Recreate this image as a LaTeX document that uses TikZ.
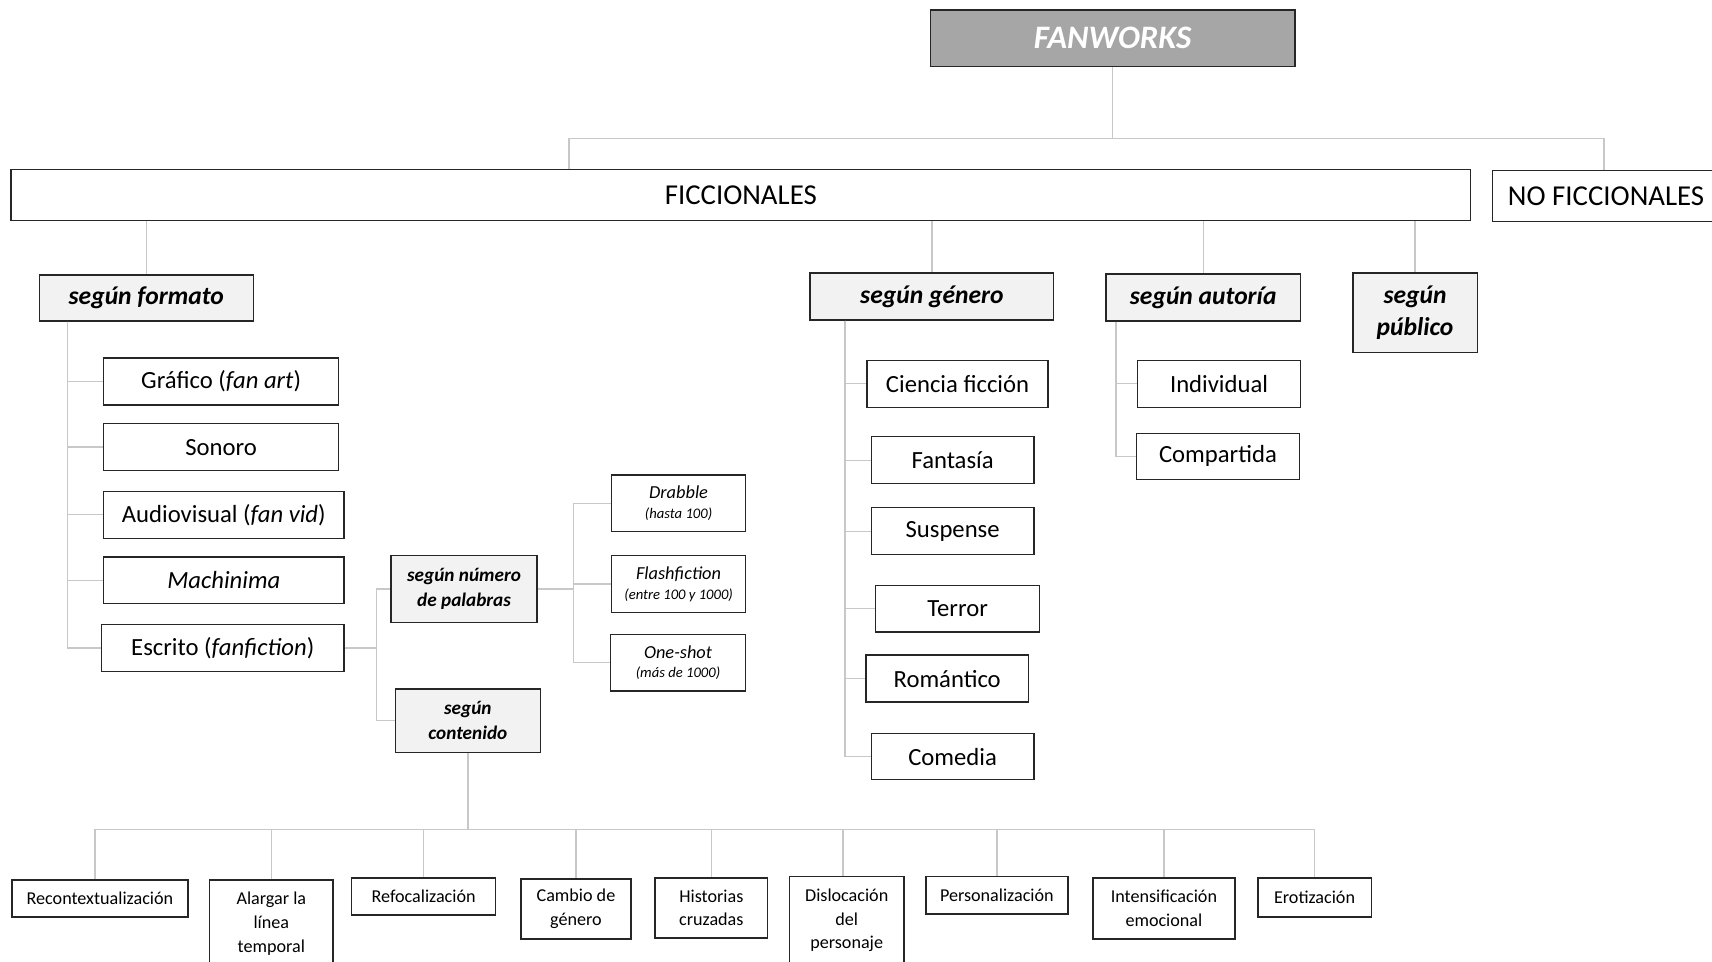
\documentclass[tikz,border=0pt]{standalone}
\usepackage{fontspec}
\setmainfont{Carlito}
\definecolor{bordc}{HTML}{262626}
\definecolor{connc}{HTML}{C8C8C8}
\definecolor{topfill}{HTML}{A6A6A6}
\definecolor{catfill}{HTML}{F2F2F2}
\newcommand{\mkbox}[7]{\node[#6, minimum width={(#4-#2)*0.5pt}, minimum height={(#5-#3)*0.5pt}] (#1) at ({(#2+#4)/2},{(#3+#5)/2}) {#7};}
\tikzset{
  basebox/.style={draw=bordc, line width=0.65pt, fill=white, inner sep=0pt, align=center},
  topbox/.style={basebox, fill=topfill, text=white, font={\fontsize{15}{18}\selectfont\bfseries\itshape}},
  bigbox/.style={basebox, font={\fontsize{13.2}{16}\selectfont}},
  catbox/.style={basebox, fill=catfill, font={\fontsize{11.7}{15}\selectfont\bfseries\itshape}},
  smallcat/.style={basebox, fill=catfill, font={\fontsize{8.8}{11.5}\selectfont\bfseries\itshape}},
  itembox/.style={basebox, font={\fontsize{11.3}{14}\selectfont}},
  wordbox/.style={basebox, font={\fontsize{8.4}{10}\selectfont\itshape}},
  lowbox/.style={basebox, font={\fontsize{8.3}{10.8}\selectfont}},
  conn/.style={draw=connc, line width=0.6pt}
}
\begin{document}
\begin{tikzpicture}[x=0.5pt,y=-0.5pt]
\useasboundingbox (0,0) rectangle (1568,881);
\clip (0,0) rectangle (1568,881);
% top level
\mkbox{fan}{852}{9}{1186}{61}{topbox}{FANWORKS}
\mkbox{fic}{10}{155}{1347}{202}{bigbox}{FICCIONALES}
\mkbox{nofic}{1367}{156}{1575}{203}{bigbox}{NO FICCIONALES}
\draw[conn] (fan.south) -- ++(0,65) -| (fic.north -| 521,0);
\draw[conn] (fan.south) -- ++(0,65) -| (nofic.north -| 1469,0);
% categories
\mkbox{sf}{36}{252}{232}{294}{catbox}{según formato}
\mkbox{sg}{742}{250}{965}{293}{catbox}{según género}
\mkbox{sa}{1013}{251}{1191}{294}{catbox}{según autoría}
\mkbox{sp}{1239}{250}{1353}{323}{catbox}{según\\público}
\draw[conn] (fic.south -| sf.north) -- (sf.north);
\draw[conn] (fic.south -| sg.north) -- (sg.north);
\draw[conn] (fic.south -| sa.north) -- (sa.north);
\draw[conn] (fic.south -| sp.north) -- (sp.north);
% formato
\mkbox{f1}{95}{328}{310}{371}{itembox}{Gráfico (\textit{fan art})}
\mkbox{f2}{95}{388}{310}{431}{itembox}{Sonoro}
\mkbox{f3}{95}{450}{315}{493}{itembox}{Audiovisual (\textit{fan vid})}
\mkbox{f4}{95}{510}{315}{553}{itembox}{\textit{Machinima}}
\mkbox{f5}{93}{572}{315}{615}{itembox}{Escrito (\textit{fanfiction})}
\foreach \n in {f1,f2,f3,f4,f5}{\draw[conn] (sf.south -| 62,0) |- (\n.west);}
% escrito
\mkbox{snp}{358}{509}{492}{570}{smallcat}{según número\\de palabras}
\mkbox{sc}{362}{631}{495}{689}{smallcat}{según\\contenido}
\draw[conn] (f5.east) -- (f5.east -| 345,0) |- (snp.west);
\draw[conn] (f5.east -| 345,0) |- (sc.west);
% palabras
\mkbox{w1}{560}{435}{683}{487}{wordbox}{Drabble\\[-1pt]{\fontsize{6.7}{8}\selectfont(hasta 100)}}
\mkbox{w2}{560}{509}{683}{561}{wordbox}{Flashfiction\\[-1pt]{\fontsize{6.7}{8}\selectfont(entre 100 y 1000)}}
\mkbox{w3}{559}{581}{683}{633}{wordbox}{One-shot\\[-1pt]{\fontsize{6.7}{8}\selectfont(más de 1000)}}
\foreach \n in {w1,w2,w3}{\draw[conn] (snp.east) -- (snp.east -| 525,0) |- (\n.west);}
% contenido
\mkbox{c1}{11}{806}{172}{840}{lowbox}{Recontextualización}
\mkbox{c2}{192}{806}{305}{886}{lowbox}{Alargar la\\línea\\temporal}
\mkbox{c3}{322}{804}{454}{838}{lowbox}{Refocalización}
\mkbox{c4}{477}{805}{578}{860}{lowbox}{Cambio de\\género}
\mkbox{c5}{600}{804}{703}{859}{lowbox}{Historias\\cruzadas}
\mkbox{c6}{723}{803}{828}{883}{lowbox}{Dislocación\\del\\personaje}
\mkbox{c7}{848}{803}{978}{837}{lowbox}{Personalización}
\mkbox{c8}{1001}{804}{1131}{860}{lowbox}{Intensificación\\emocional}
\mkbox{c9}{1152}{804}{1256}{840}{lowbox}{Erotización}
\draw[conn] (sc.south) -- (sc.south |- 0,760);
\draw[conn] (c1.north -| 87,0) -- (87,760) -- (c9.north |- 0,760) -- (c9.north);
\foreach \n in {c2,c3,c4,c5,c7,c8}{\draw[conn] (\n.north) -- (\n.north |- 0,760);}
\draw[conn] (c6.north -| 772,0) -- (772,760);
% genero
\mkbox{g1}{794}{330}{960}{373}{itembox}{Ciencia ficción}
\mkbox{g2}{798}{400}{947}{443}{itembox}{Fantasía}
\mkbox{g3}{798}{465}{947}{508}{itembox}{Suspense}
\mkbox{g4}{802}{536}{952}{579}{itembox}{Terror}
\mkbox{g5}{793}{600}{942}{643}{itembox}{Romántico}
\mkbox{g6}{798}{672}{947}{714}{itembox}{Comedia}
\foreach \n in {g1,g2,g3,g4,g5,g6}{\draw[conn] (sg.south -| 774,0) |- (\n.west);}
% autoria
\mkbox{a1}{1042}{330}{1191}{373}{itembox}{Individual}
\mkbox{a2}{1041}{397}{1190}{439}{itembox}{Compartida}
\foreach \n in {a1,a2}{\draw[conn] (sa.south -| 1022,0) |- (\n.west);}
\end{tikzpicture}
\end{document}
